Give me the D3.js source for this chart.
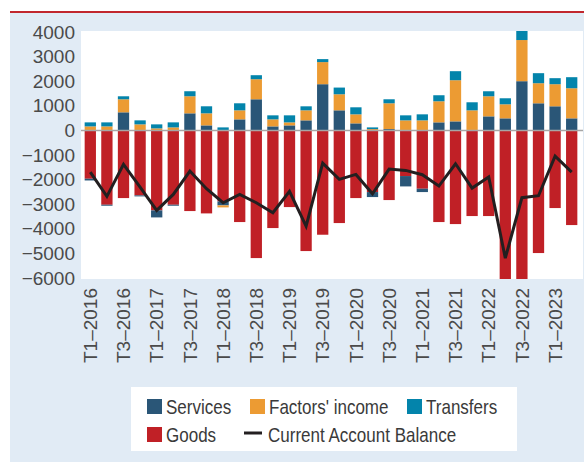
<!DOCTYPE html>
<html>
<head>
<meta charset="utf-8">
<script src="https://cdn.jsdelivr.net/npm/d3@7"></script>
<style>
  html, body { margin: 0; padding: 0; background: #fff; }
  svg { display: block; }
  .tick text { font-family: "Liberation Sans", Arial, sans-serif; font-size: 19px; fill: #4a4a4a; }
  .legend text { font-family: "Liberation Sans", Arial, sans-serif; font-size: 20.5px; fill: #3a3a3a; }
</style>
</head>
<body>
<div id="chart"></div>
<script>
// quarters T1-2016 .. T2-2023
const quarters = [
  'T1–2016', 'T2–2016', 'T3–2016', 'T4–2016',
  'T1–2017', 'T2–2017', 'T3–2017', 'T4–2017',
  'T1–2018', 'T2–2018', 'T3–2018', 'T4–2018',
  'T1–2019', 'T2–2019', 'T3–2019', 'T4–2019',
  'T1–2020', 'T2–2020', 'T3–2020', 'T4–2020',
  'T1–2021', 'T2–2021', 'T3–2021', 'T4–2021',
  'T1–2022', 'T2–2022', 'T3–2022', 'T4–2022',
  'T1–2023', 'T2–2023'
];
const services  = [-70, -40, 735, -40, -285, -40, 694, 204, -163, 449, 1265, 163, 204, 408, 1878, 816, 286, -203, 54, -421, -136, 327, 367, 0, 571, 490, 2000, 1102, 980, 490];
const factors   = [163, 163, 530, 245, 82, 122, 694, 490, -81, 367, 816, 286, 122, 408, 898, 653, 367, 54, 1048, 408, 408, 857, 1673, 816, 816, 571, 1673, 816, 898, 1224];
const transfers = [163, 163, 122, 163, 163, 204, 204, 286, 122, 286, 163, 163, 286, 163, 122, 272, 286, 68, 163, 204, 245, 245, 367, 327, 204, 245, 400, 408, 245, 449];
const goods     = [-1965, -3022, -2751, -2642, -3252, -3022, -3279, -3374, -2886, -3726, -5190, -3970, -3117, -4905, -4241, -3767, -2751, -2507, -2832, -1856, -2371, -3726, -3808, -3482, -3482, -6500, -6780, -4986, -3157, -3848];
const balance   = [-1694, -2683, -1382, -2304, -3252, -2602, -1653, -2371, -2940, -2602, -2940, -3347, -2480, -3889, -1328, -1992, -1789, -2575, -1572, -1626, -1802, -2263, -1355, -2344, -1897, -5190, -2737, -2656, -1043, -1694];
const yTicks = [4000, 3000, 2000, 1000, 0, -1000, -2000, -3000, -4000, -5000, -6000];

const colors = {
  goods: '#c02026',
  services: '#2a5677',
  factors: '#ec9b33',
  transfers: '#0384ab'
};

const W = 584, H = 462;
const plot = {left: 81, right: 583, top: 31, bottom: 279};

const svg = d3.select('#chart').append('svg').attr('width', W).attr('height', H);

// background + red rule
svg.append('rect').attr('x', 10).attr('y', 13).attr('width', W - 10).attr('height', H - 13).attr('fill', '#e1ebf5');
svg.append('rect').attr('x', 10).attr('y', 11).attr('width', W - 10).attr('height', 2).attr('fill', '#c1272d');
svg.append('rect')
  .attr('x', plot.left).attr('y', plot.top)
  .attr('width', plot.right - plot.left).attr('height', plot.bottom - plot.top)
  .attr('fill', '#fff');

svg.append('clipPath').attr('id', 'clip')
  .append('rect')
  .attr('x', plot.left).attr('y', plot.top)
  .attr('width', plot.right - plot.left).attr('height', plot.bottom - plot.top);

const x = d3.scaleBand().domain(quarters).range([82, 580]).paddingInner(0.32).paddingOuter(0.16);
const y = d3.scaleLinear().domain([-6000, 4000]).range([278, 32]);

const rows = quarters.map((q, i) => ({
  q, goods: goods[i], services: services[i], factors: factors[i], transfers: transfers[i]
}));
const keys = ['goods', 'services', 'factors', 'transfers'];
const series = d3.stack().keys(keys).offset(d3.stackOffsetDiverging)(rows);

const g = svg.append('g').attr('clip-path', 'url(#clip)');

g.selectAll('g.series')
  .data(series)
  .join('g')
  .attr('class', 'series')
  .attr('fill', d => colors[d.key])
  .selectAll('rect')
  .data(d => d)
  .join('rect')
  .attr('x', d => x(d.data.q))
  .attr('width', x.bandwidth())
  .attr('y', d => y(Math.max(d[0], d[1])))
  .attr('height', d => Math.abs(y(d[0]) - y(d[1])));

// zero line
g.append('line')
  .attr('x1', plot.left).attr('x2', plot.right)
  .attr('y1', y(0)).attr('y2', y(0))
  .attr('stroke', '#a6a6a6').attr('stroke-width', 1.5);

// current account balance
const line = d3.line()
  .x((d, i) => x(quarters[i]) + x.bandwidth() / 2)
  .y(d => y(d));
g.append('path')
  .datum(balance)
  .attr('d', line)
  .attr('fill', 'none')
  .attr('stroke', '#231f20')
  .attr('stroke-width', 3)
  .attr('stroke-linejoin', 'miter');

// axes
const yAxis = d3.axisLeft(y).tickValues(yTicks).tickSize(0).tickPadding(6).tickFormat(d3.format('d'));
svg.append('g').attr('transform', `translate(${plot.left},0)`).call(yAxis)
  .call(a => a.select('.domain').remove());

const xAxis = d3.axisBottom(x).tickValues(quarters.filter((q, i) => i % 2 === 0)).tickSize(0);
svg.append('g').attr('transform', `translate(0,${plot.bottom})`).call(xAxis)
  .call(a => a.select('.domain').remove())
  .selectAll('text')
  .attr('transform', 'rotate(-90)')
  .attr('x', -9)
  .attr('y', 0)
  .attr('dy', '0.35em')
  .attr('text-anchor', 'end');

// legend (condensed look: squeeze text horizontally)
const lg = svg.append('g').attr('class', 'legend');
lg.append('rect').attr('x', 131).attr('y', 387).attr('width', 386).attr('height', 64).attr('fill', '#fff');

const squeeze = 0.83;
const legendItems = [
  {label: 'Services', color: colors.services, x: 147, y: 399},
  {label: "Factors' income", color: colors.factors, x: 250, y: 399},
  {label: 'Transfers', color: colors.transfers, x: 407, y: 399},
  {label: 'Goods', color: colors.goods, x: 147, y: 427}
];
legendItems.forEach(it => {
  lg.append('rect').attr('x', it.x).attr('y', it.y).attr('width', 15).attr('height', 15).attr('fill', it.color);
  lg.append('text')
    .attr('transform', `translate(${it.x + 19},${it.y + 15}) scale(${squeeze},1)`)
    .text(it.label);
});
lg.append('line').attr('x1', 244).attr('x2', 262).attr('y1', 433).attr('y2', 433)
  .attr('stroke', '#231f20').attr('stroke-width', 3);
lg.append('text')
  .attr('transform', `translate(268,442) scale(${squeeze},1)`)
  .text('Current Account Balance');
</script>
</body>
</html>
